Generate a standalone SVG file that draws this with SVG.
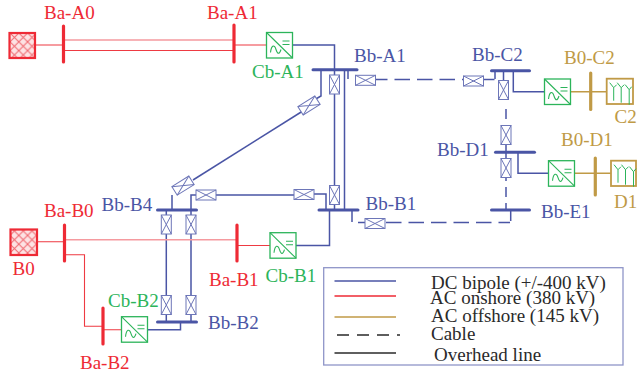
<svg xmlns="http://www.w3.org/2000/svg" width="637" height="376" viewBox="0 0 637 376">
<style>
text{font-family:"Liberation Serif","Times New Roman",serif;font-size:19px}
.tb{fill:#4a55a5}.tr{fill:#ee2a35}.tg{fill:#2cb45a}.ty{fill:#c09a46}.tk{fill:#2a2a2a}
.dc,.ac,.of,.dash,.dashv,.pale{fill:none}
.dc{stroke:#4a55a5;stroke-width:1.5}
.dash{stroke:#4a55a5;stroke-width:1.5;stroke-dasharray:15.500 7}
.dashv{stroke:#4a55a5;stroke-width:1.5;stroke-dasharray:10 6}
.ac{stroke:#ee3a42;stroke-width:1.1}
.pale{stroke:#f59a9f;stroke-width:1.6}
.of{stroke:#c09a46;stroke-width:1.5}
.busb{stroke:#4a55a5;stroke-width:3;stroke-linecap:round}
.busr{stroke:#ee2a35;stroke-width:3.2;stroke-linecap:round}
.busy{stroke:#c09a46;stroke-width:3.2;stroke-linecap:round}
.brk{fill:#fff;stroke:#6d76b8;stroke-width:1}
.cv{fill:#fff;stroke:#2cb45a;stroke-width:1.3}
.cvl{fill:none;stroke:#2cb45a;stroke-width:1.1}
.wb{fill:#fff;stroke:#c09a46;stroke-width:1.8}
.tu{fill:none;stroke:#2cb45a;stroke-width:1}
.src{fill:url(#hatch);stroke:#ee2a35;stroke-width:2.200}
</style>
<defs>
<pattern id="hatch" width="8.800" height="8.800" patternUnits="userSpaceOnUse" patternTransform="translate(10 33)">
<rect width="8.800" height="8.800" fill="#fde3e4"/>
<path d="M0 0L8.800 8.800M8.800 0L0 8.800" stroke="#f0656c" stroke-width="1"/>
</pattern>
<g id="brk-h"><rect class="brk" x="-10" y="-5" width="20" height="10"/><path class="brk" d="M-10 -5L10 5M-10 5L10 -5"/></g>
<g id="brk-v"><rect class="brk" x="-5" y="-9.500" width="10" height="19"/><path class="brk" d="M-5 -9.500L5 9.500M-5 9.500L5 -9.500"/></g>
<g id="conv"><rect class="cv" x="0" y="0" width="26" height="25.500"/><path class="cvl" d="M0 0L26 25.500M16 8.500H23M16 12H23M4 20C5 12 8 12 9.500 17C11 22 13 22 14.500 17"/></g>
<g id="wind"><path class="tu" d="M7 22V9L3 4M7 9L10 6M14.500 24V9L10.500 4M14.500 9L17.500 6M22.500 26V11L18.500 6M22.500 11L25 8"/></g>
</defs>

<g id="connectors">
<path class="ac" d="M35 45H63.500M63.500 50.500H234M234 45H266.500"/>
<path class="pale" d="M63.500 40H234"/>
<path class="dc" d="M293 45H334.500V210M344.500 70V210M348 70V79M321 70V96L314 100"/>
<path class="dc" d="M302 111.500L193 180"/>
<path class="dc" d="M172 210V195M191 210V195H196M216 195H294M314 194H326V210"/>
<path class="dc" d="M166.300 210V322M191 210V322"/>
<path class="dc" d="M148 329.700H180.500V322M296 245.500H329.500V210"/>
<path class="ac" d="M37 241.700H64.500M237 245.500H270M65 254.700H84.500V326.300H103M103 329.700H121.500"/>
<path class="pale" d="M64.500 239.700H237"/>
<path class="dash" d="M376 79.500H463" stroke-dashoffset="4"/>
<path class="dash" d="M484 79.500H494.500"/>
<path class="dc" d="M495 71V79M503.500 71V80M513.300 71V91.700H544.300M518 152.300V173.300H548.300M510.700 210V221M352 210V222"/>
<path class="dash" d="M358 222.500H365"/>
<path class="dash" d="M386 222.500H510"/>
<path class="dashv" d="M506 109V123"/>
<path class="dashv" d="M506 178V181M506 187V210"/>
<path class="dc" d="M506 145V158"/>
<path class="of" d="M571 91.700H606.700M575 173.300H611"/>
</g>

<g id="Ba-A0"><path class="busr" d="M63.500 26V62"/><text class="tr" x="44" y="19">Ba-A0</text></g>
<g id="Ba-A1"><path class="busr" d="M234 25V62"/><text class="tr" x="207" y="19">Ba-A1</text></g>
<g id="src-A0"><rect class="src" x="9.500" y="33" width="25.500" height="25"/></g>
<g id="Cb-A1"><use href="#conv" x="266.500" y="32.500"/><text class="tg" x="252" y="78">Cb-A1</text></g>

<g id="Bb-A1"><path class="busb" d="M313 69.700H357"/><use href="#brk-v" x="334.500" y="84.500"/><use href="#brk-h" x="365.500" y="80.300"/><text class="tb" x="354" y="62">Bb-A1</text></g>
<g id="Bb-A1-diag"><use href="#brk-h" transform="translate(309 105.500) rotate(-32)"/></g>

<g id="Bb-C2"><path class="busb" d="M491.500 70.700H529.500"/><use href="#brk-h" x="473.500" y="81"/><use href="#brk-v" x="503.500" y="90"/><text class="tb" x="472" y="60.700">Bb-C2</text></g>
<g id="Cb-C2"><use href="#conv" x="544.500" y="79"/></g>
<g id="B0-C2"><path class="busy" d="M590.700 73V109.500"/><text class="ty" x="564" y="64">B0-C2</text></g>
<g id="C2"><rect class="wb" x="606.700" y="78.700" width="26.300" height="25.300"/><use href="#wind" x="606.700" y="78.700"/><text class="ty" x="614.500" y="123">C2</text></g>

<g id="Bb-D1"><path class="busb" d="M495.500 152.300H534.500"/><use href="#brk-v" x="506" y="135"/><use href="#brk-v" x="506" y="168"/><text class="tb" x="437" y="155.700">Bb-D1</text></g>
<g id="Cb-D1"><use href="#conv" x="548.500" y="160.700"/></g>
<g id="B0-D1"><path class="busy" d="M595.300 158V195"/><text class="ty" x="561" y="146">B0-D1</text></g>
<g id="D1"><rect class="wb" x="611" y="160.700" width="25" height="25.300"/><use href="#wind" x="611" y="160.700"/><text class="ty" x="614" y="208">D1</text></g>

<g id="Bb-E1"><path class="busb" d="M491.500 210H529.500"/><text class="tb" x="541" y="217.700">Bb-E1</text></g>

<g id="Bb-B1"><path class="busb" d="M319 210H358"/><use href="#brk-v" x="334.500" y="195"/><use href="#brk-h" x="375" y="223.500"/><use href="#brk-h" x="304" y="194.500"/><text class="tb" x="365.500" y="210">Bb-B1</text></g>

<g id="Bb-B4"><path class="busb" d="M157.500 210H196.500"/><use href="#brk-h" transform="translate(183 185.600) rotate(-32)"/><use href="#brk-h" x="206" y="195"/><use href="#brk-v" x="166.300" y="224.500"/><use href="#brk-v" x="191" y="224.500"/><text class="tb" x="101.500" y="210.700">Bb-B4</text></g>

<g id="Bb-B2"><path class="busb" d="M157.500 322H196.500"/><use href="#brk-v" x="166.300" y="305"/><use href="#brk-v" x="191" y="305"/><text class="tb" x="208" y="329">Bb-B2</text></g>

<g id="B0"><rect class="src" x="10.500" y="229.500" width="26.500" height="25.500"/><text class="tr" x="12.500" y="275">B0</text></g>
<g id="Ba-B0"><path class="busr" d="M64.500 225V261"/><text class="tr" x="44" y="217">Ba-B0</text></g>
<g id="Ba-B1"><path class="busr" d="M237 225V261"/><text class="tr" x="209" y="286">Ba-B1</text></g>
<g id="Cb-B1"><use href="#conv" x="270" y="232.700"/><text class="tg" x="265.500" y="282">Cb-B1</text></g>
<g id="Ba-B2"><path class="busr" d="M103 308V344"/><text class="tr" x="80" y="369">Ba-B2</text></g>
<g id="Cb-B2"><use href="#conv" x="121.500" y="316.700"/><text class="tg" x="108" y="306.700">Cb-B2</text></g>

<g id="legend">
<rect x="323.700" y="267.700" width="299.300" height="97.300" fill="#fff" stroke="#8f95c8" stroke-width="1.300"/>
<path d="M334.500 281H396" stroke="#4a55a5" stroke-width="1.400"/>
<path d="M334.500 296H396" stroke="#ee2a35" stroke-width="1.400"/>
<path d="M334.500 317H396" stroke="#c09a46" stroke-width="1.400"/>
<path d="M337 335H400" stroke="#2a2a2a" stroke-width="1.400" stroke-dasharray="12 8"/>
<path d="M334.500 353H396" stroke="#2a2a2a" stroke-width="1.400"/>
<text class="tk" x="431" y="289">DC bipole (+/-400 kV)</text>
<text class="tk" x="430" y="304">AC onshore (380 kV)</text>
<text class="tk" x="431" y="322">AC offshore (145 kV)</text>
<text class="tk" x="431" y="340">Cable</text>
<text class="tk" x="434" y="360.500">Overhead line</text>
</g>
</svg>
